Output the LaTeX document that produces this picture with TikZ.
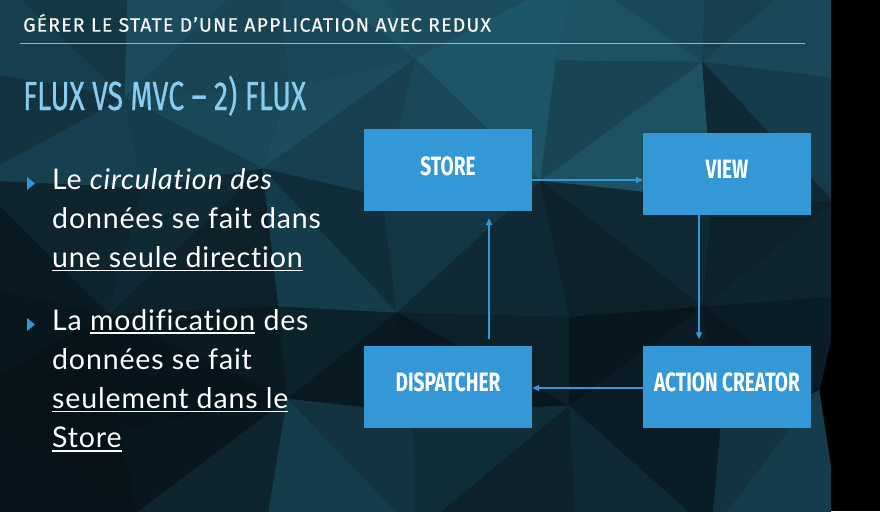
\documentclass[tikz,border=0pt]{standalone}
\usepackage{fontspec}
\usetikzlibrary{positioning,arrows.meta}
\setmainfont{Lato}[LetterSpace=3,Ligatures=NoCommon]
\newfontfamily\dinfont[FakeStretch=0.72]{Fira Sans}
\newfontfamily\fluxfont[FakeStretch=0.70,FakeBold=0.6]{Fira Sans}
\newfontfamily\headfont[LetterSpace=6,FakeBold=0.5]{Fira Sans}
\definecolor{boxblue}{RGB}{52,152,214}
\definecolor{headblue}{RGB}{138,204,240}
\definecolor{rulegray}{RGB}{165,175,180}
\definecolor{bglt}{RGB}{36,104,126}
\definecolor{bgdk}{RGB}{6,15,21}
\newsavebox{\ulbox}
\newcommand{\uln}[1]{\sbox{\ulbox}{#1}\rlap{\rule[-3.6pt]{\wd\ulbox}{1.2pt}}\usebox{\ulbox}}

\begin{document}
\begin{tikzpicture}[x=1pt, y=-1pt,
    facet/.style={fill=#1, draw=#1, line width=.6pt},
    box/.style={fill=boxblue, minimum width=168pt, minimum height=82pt, inner sep=0pt, text=white, text depth=8pt, font=\dinfont\bfseries\fontsize{26.5}{30}\selectfont},
    flow/.style={draw=boxblue, line width=1.4pt, -{Triangle[length=7pt,width=6pt]}},
    para/.style={anchor=base west, inner sep=0pt, align=left, text=white, font=\fontsize{28.5}{39.3}\selectfont}]
\useasboundingbox (0,0) rectangle (880,511);
\fill[black] (0,0) rectangle (880,511);
\begin{scope}
\clip (0,0) rectangle (831,511);
\pgfmathsetseed{11}
\foreach \i in {0,...,6}{\foreach \j in {0,...,5}{
    \pgfmathsetmacro\gx{-30+145*\i+30*rand}
    \pgfmathsetmacro\gy{-30+110*\j+25*rand}
    \coordinate (g\i-\j) at (\gx,\gy);
}}
\foreach \i/\j/\a/\b in {0/0/45/55, 1/0/70/60, 2/0/75/65, 3/0/70/80, 4/0/65/75, 5/0/55/65,
    0/1/40/55, 1/1/65/50, 2/1/70/55, 3/1/80/65, 4/1/60/75, 5/1/50/30,
    0/2/25/12, 1/2/30/20, 2/2/35/50, 3/2/45/30, 4/2/30/20, 5/2/20/25,
    0/3/8/4, 1/3/12/6, 2/3/22/12, 3/3/20/10, 4/3/8/15, 5/3/15/10,
    0/4/4/6, 1/4/8/25, 2/4/40/50, 3/4/35/20, 4/4/15/30, 5/4/40/50}{
    \pgfmathtruncatemacro\k{\i+1}
    \pgfmathtruncatemacro\l{\j+1}
    \pgfmathtruncatemacro\s{mod(\i+\j,2)}
    \ifnum\s=0
        \path[facet=bglt!\a!bgdk] (g\i-\j) -- (g\k-\j) -- (g\k-\l) -- cycle;
        \path[facet=bglt!\b!bgdk] (g\i-\j) -- (g\i-\l) -- (g\k-\l) -- cycle;
    \else
        \path[facet=bglt!\a!bgdk] (g\i-\j) -- (g\k-\j) -- (g\i-\l) -- cycle;
        \path[facet=bglt!\b!bgdk] (g\k-\j) -- (g\k-\l) -- (g\i-\l) -- cycle;
    \fi
}
\end{scope}

\node[anchor=base west, inner sep=0pt, text=white!92!gray, font=\headfont\fontsize{19.5}{22}\selectfont] (title) at (23,31.7) {GÉRER LE STATE D’UNE APPLICATION AVEC REDUX};
\draw[rulegray, line width=1.3pt] (20,43.5) -- (805,43.5);
\node[anchor=base west, inner sep=0pt, text=headblue, font=\fluxfont\fontsize{40.6}{44}\selectfont] (heading) at (23,110) {FLUX VS MVC – 2) FLUX};

\node[para] (first) at (52,267.6) {Le \textit{circulation des}\\données se fait dans\\\uln{une seule direction}};
\node[para] (second) at (52,447.9) {La \uln{modification} des\\données se fait\\\uln{seulement dans le}\\\uln{Store}};
\fill[boxblue] (27,177) -- (35,183.5) -- (27,190) -- cycle;
\fill[boxblue] (27,318) -- (35,324.5) -- (27,331) -- cycle;

\node[box] (store) at (448,170) {STORE};
\node[box] (view) [right of=store, node distance=279pt, yshift=-3.5pt] {VIEW};
\node[box] (dispatch) [below of=store, node distance=216.5pt] {DISPATCHER};
\node[box] (action) [right of=dispatch, node distance=279pt] {ACTION CREATOR};

\coordinate (s1) at ([yshift=-10pt]store.east);
\coordinate (v1) at ([xshift=-28pt]view.south);
\coordinate (d1) at ([xshift=41pt]dispatch.north);
\coordinate (a1) at ([yshift=-1.5pt]action.west);
\draw[flow] (s1) -- (s1 -| view.west);
\draw[flow, shorten >=6pt] (v1) -- (v1 |- action.north);
\draw[flow] (a1) -- (a1 -| dispatch.east);
\draw[flow, shorten <=6pt, shorten >=7pt] (d1) -- (d1 |- store.south);
\end{tikzpicture}
\end{document}
